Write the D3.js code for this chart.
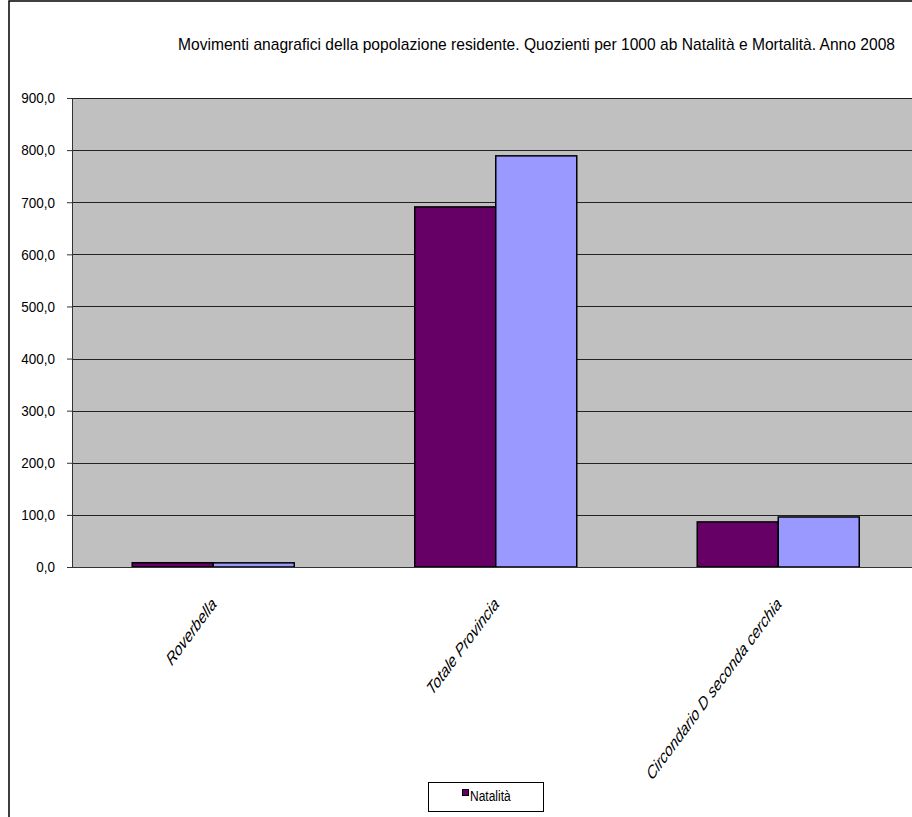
<!DOCTYPE html>
<html>
<head>
<meta charset="utf-8">
<script src="https://cdnjs.cloudflare.com/ajax/libs/d3/7.8.5/d3.min.js"></script>
<style>
  html, body { margin: 0; padding: 0; background: #fff; }
  svg { display: block; }
  text { font-family: "Liberation Sans", Arial, sans-serif; fill: #000; }
</style>
</head>
<body>
<svg id="chart" width="912" height="817"></svg>
<script>
const title = "Movimenti anagrafici della popolazione residente. Quozienti per 1000 ab Natalità e Mortalità. Anno 2008";
const categories = ["Roverbella", "Totale Provincia", "Circondario D seconda cerchia"];
const seriesNames = ["Natalità", "Mortalità"];
const natalita = [8.2, 691.0, 86.5];
const mortalita = [8.0, 789.0, 96.0];
const yTicks = [0, 100, 200, 300, 400, 500, 600, 700, 800, 900];
const colors = ["#660066", "#9999ff"];

const svg = d3.select("#chart");
const plot = { left: 72, right: 919.5, top: 98, bottom: 567 };

// outer chart border (only top & left visible in the frame)
svg.append("rect")
  .attr("x", 9).attr("y", 1)
  .attr("width", 1200).attr("height", 1200)
  .attr("fill", "#fff").attr("stroke", "#000").attr("stroke-width", 1.5);

// title
svg.append("text")
  .attr("transform", "translate(178,50) scale(1,1.2)")
  .attr("font-size", 14)
  .attr("textLength", 717).attr("lengthAdjust", "spacingAndGlyphs")
  .text(title);

const x0 = d3.scaleBand()
  .domain(categories)
  .range([plot.left, plot.right])
  .paddingInner(0.4265)
  .paddingOuter(0.21325);
const x1 = d3.scaleBand()
  .domain(seriesNames)
  .range([0, x0.bandwidth()]);
const y = d3.scaleLinear().domain([0, 900]).range([plot.bottom, plot.top]);

// plot background
svg.append("rect")
  .attr("x", plot.left).attr("y", plot.top)
  .attr("width", plot.right - plot.left).attr("height", plot.bottom - plot.top)
  .attr("fill", "#c0c0c0");

// gridlines
svg.append("g").selectAll("line")
  .data(yTicks.filter(d => d > 0))
  .join("line")
  .attr("x1", plot.left).attr("x2", plot.right)
  .attr("y1", d => Math.round(y(d)) + 0.5).attr("y2", d => Math.round(y(d)) + 0.5)
  .attr("stroke", "#222").attr("stroke-width", 1);

// y axis
const yAxis = d3.axisLeft(y)
  .tickValues(yTicks)
  .tickSize(5)
  .tickPadding(12)
  .tickFormat(d => d3.format(".1f")(d).replace(".", ","));
const gy = svg.append("g")
  .attr("transform", `translate(${plot.left},0)`)
  .call(yAxis);
gy.select(".domain").attr("stroke", "#333").attr("stroke-width", 1);
gy.selectAll(".tick line").attr("stroke", "#333");
gy.selectAll(".tick text")
  .attr("font-size", 13.5)
  .attr("font-family", "'Liberation Sans', Arial, sans-serif")
  .attr("fill", "#000")
  .attr("transform", "scale(1,1.12)");

// bars
const data = categories.map((c, i) => ({ cat: c, vals: [natalita[i], mortalita[i]] }));
const groups = svg.append("g").selectAll("g")
  .data(data)
  .join("g")
  .attr("transform", d => `translate(${x0(d.cat)},0)`);
groups.selectAll("rect")
  .data(d => d.vals.map((v, j) => ({ name: seriesNames[j], v, j })))
  .join("rect")
  .attr("x", d => x1(d.name))
  .attr("y", d => y(d.v))
  .attr("width", x1.bandwidth())
  .attr("height", d => y(0) - y(d.v))
  .attr("fill", d => colors[d.j])
  .attr("stroke", "#000")
  .attr("stroke-width", 1.5);

// x axis baseline
svg.append("line")
  .attr("x1", plot.left).attr("x2", plot.right)
  .attr("y1", plot.bottom + 0.5).attr("y2", plot.bottom + 0.5)
  .attr("stroke", "#333").attr("stroke-width", 1);

// x labels
svg.append("g").selectAll("text")
  .data(categories)
  .join("text")
  .attr("transform", d => `translate(${x0(d) + x0.bandwidth() / 2 + 4},605) scale(1,1.35) rotate(-45)`)
  .attr("text-anchor", "end")
  .attr("font-size", 13.5)
  .attr("font-style", "italic")
  .text(d => d);

// legend
const lg = svg.append("g");
lg.append("rect")
  .attr("x", 428.5).attr("y", 782.5)
  .attr("width", 115).attr("height", 29)
  .attr("fill", "#fff").attr("stroke", "#000").attr("stroke-width", 1);
lg.append("rect")
  .attr("x", 462.5).attr("y", 789.5)
  .attr("width", 6).attr("height", 6)
  .attr("fill", colors[0]).attr("stroke", "#000").attr("stroke-width", 1);
lg.append("text")
  .attr("transform", "translate(470,801) scale(1,1.15)")
  .attr("font-size", 12)
  .text(seriesNames[0]);
</script>
</body>
</html>
